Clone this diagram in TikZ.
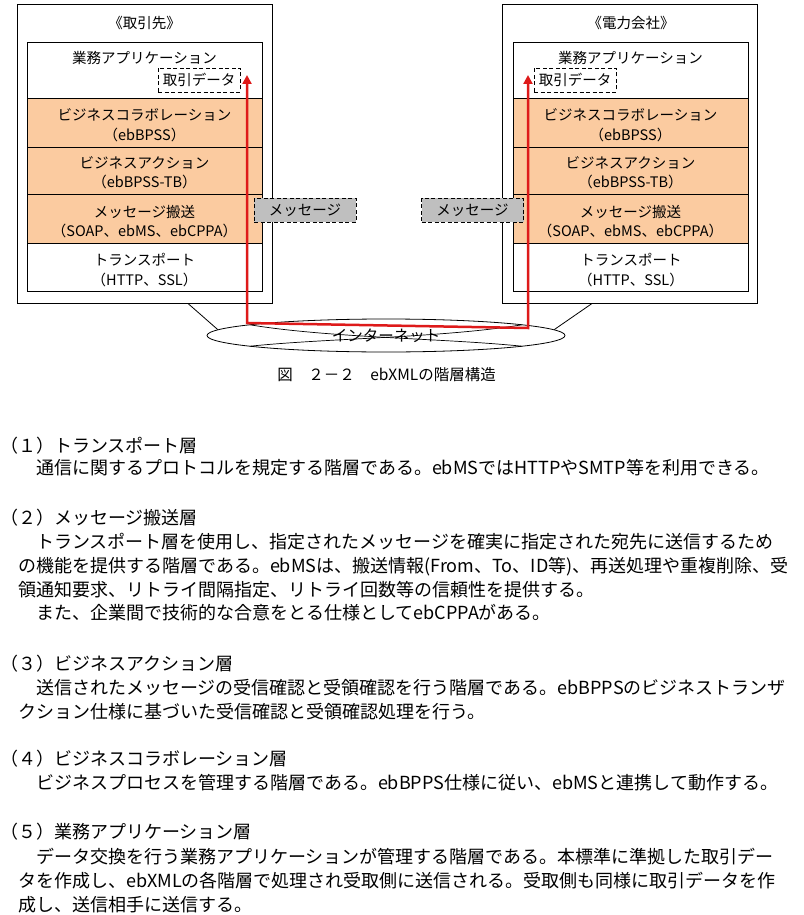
\documentclass[tikz,border=0pt]{standalone}
\usepackage{fontspec}
\setmainfont{Noto Sans CJK JP}
\usetikzlibrary{arrows.meta,shapes.geometric}

\definecolor{peach}{RGB}{251,203,160}
\definecolor{msggray}{RGB}{191,191,191}
\definecolor{flowred}{RGB}{222,26,26}

\newcommand{\layfont}{\fontsize{14.5pt}{19.5pt}\selectfont}
\newcommand{\capfont}{\fontsize{15.5pt}{19pt}\selectfont}
\newcommand{\bodyfont}{\fontsize{18pt}{24pt}\selectfont}

\tikzset{
  outer/.style={draw, line width=1pt, minimum width=255pt, minimum height=298pt, inner sep=0pt},
  layer/.style={draw, line width=0.9pt, fill=white, minimum width=235pt, inner sep=0pt},
  biz/.style={layer, fill=peach},
  lbl/.style={inner sep=0pt, align=center, font=\layfont},
  databox/.style={draw, line width=0.9pt, dash pattern=on 4pt off 2.5pt, fill=white,
    minimum width=82pt, minimum height=24pt, inner sep=0pt, font=\layfont},
  msgbox/.style={databox, fill=msggray, minimum width=102pt},
  flow/.style={draw=flowred, line width=2.5pt,
    arrows={Triangle[length=9pt,width=9pt]-Triangle[length=9pt,width=9pt]}},
  body/.style={anchor=base west, inner sep=0pt, font=\bodyfont}
}

\begin{document}
\begin{tikzpicture}[x=1pt,y=-1pt]
  \fill[white] (0,0) rectangle (803,915);
  \useasboundingbox (0,0) rectangle (803,915);

  % Trading partner
  \node[outer] (lbox) at (144.5,154) {};
  \node[lbl] (ltitle) at (144.5,23) {《取引先》};
  \node[layer, minimum height=56pt] (lapp) at (144.5,70) {};
  \node[biz, minimum height=49pt] (lcol) at (144.5,122.5) {};
  \node[biz, minimum height=47pt] (lact) at (144.5,170.5) {};
  \node[biz, minimum height=49pt] (lmsg) at (144.5,218.5) {};
  \node[layer, minimum height=48pt] (ltrn) at (144.5,267) {};
  \node[lbl] (lappt) at (144.5,58) {業務アプリケーション};
  \node[lbl] (lcolt) at (144.5,125) {ビジネスコラボレーション\\（ebBPSS）};
  \node[lbl] (lactt) at (144.5,172.5) {ビジネスアクション\\（ebBPSS-TB）};
  \node[lbl] (lmsgt) at (144.5,221.5) {メッセージ搬送\\（SOAP、ebMS、ebCPPA）};
  \node[lbl] (ltrnt) at (144.5,270) {トランスポート\\（HTTP、SSL）};
  \node[databox] (ldata) at (199,80) {取引データ};

  % Power company
  \node[outer] (rbox) at (630,154) {};
  \node[lbl] (rtitle) at (631,23) {《電力会社》};
  \node[layer, minimum height=56pt] (rapp) at (630.5,70) {};
  \node[biz, minimum height=49pt] (rcol) at (630.5,122.5) {};
  \node[biz, minimum height=47pt] (ract) at (630.5,170.5) {};
  \node[biz, minimum height=49pt] (rmsg) at (630.5,218.5) {};
  \node[layer, minimum height=48pt] (rtrn) at (631,267) {};
  \node[lbl] (rappt) at (630.5,58) {業務アプリケーション};
  \node[lbl] (rcolt) at (630.5,125) {ビジネスコラボレーション\\（ebBPSS）};
  \node[lbl] (ractt) at (630.5,172.5) {ビジネスアクション\\（ebBPSS-TB）};
  \node[lbl] (rmsgt) at (630.5,221.5) {メッセージ搬送\\（SOAP、ebMS、ebCPPA）};
  \node[lbl] (rtrnt) at (631,270) {トランスポート\\（HTTP、SSL）};
  \node[databox] (rdata) at (575,80) {取引データ};

  % Internet
  \node[draw, ellipse, line width=0.8pt, minimum width=358pt, minimum height=33pt,
    inner sep=0pt, font=\capfont] (net) at (386,335.5) {インターネット};
  \draw[line width=0.7pt] (250,324.8) .. controls (330,338) and (440,338) .. (522,346.2);
  \draw[line width=0.7pt] (250,346.2) .. controls (330,338) and (440,338) .. (522,324.8);
  \draw[line width=0.8pt] ([xshift=43.5pt]lbox.south) -- (net.178);
  \draw[line width=0.8pt] ([xshift=-38pt]rbox.south) -- (net.2);

  % Data flow
  \coordinate (lup) at (247,75);
  \coordinate (ldn) at (247,323);
  \coordinate (rdn) at (528,328);
  \coordinate (rup) at (528,75);
  \draw[flow] (lup) -- (ldn) -- (rdn) -- (rup);

  \node[msgbox] (lmsgx) at (305,210) {メッセージ};
  \node[msgbox] (rmsgx) at (472.5,210) {メッセージ};

  \node[inner sep=0pt, font=\capfont] (cap) at (386.5,375) {図　２－２　ebXMLの階層構造};

  % Explanation
  \node[body] (h1) at (0,452) {（１）トランスポート層};
  \node[body] (p1a) at (18,474) {　通信に関するプロトコルを規定する階層である。ebMSではHTTPやSMTP等を利用できる。};

  \node[body] (h2) at (0,524) {（２）メッセージ搬送層};
  \node[body] (p2a) at (18,548) {　トランスポート層を使用し、指定されたメッセージを確実に指定された宛先に送信するため};
  \node[body] (p2b) at (18,572) {の機能を提供する階層である。ebMSは、搬送情報(From、To、ID等)、再送処理や重複削除、受};
  \node[body] (p2c) at (18,596) {領通知要求、リトライ間隔指定、リトライ回数等の信頼性を提供する。};
  \node[body] (p2d) at (18,619) {　また、企業間で技術的な合意をとる仕様としてebCPPAがある。};

  \node[body] (h3) at (0,670) {（３）ビジネスアクション層};
  \node[body] (p3a) at (18,694) {　送信されたメッセージの受信確認と受領確認を行う階層である。ebBPPSのビジネストランザ};
  \node[body] (p3b) at (18,718) {クション仕様に基づいた受信確認と受領確認処理を行う。};

  \node[body] (h4) at (0,765) {（４）ビジネスコラボレーション層};
  \node[body] (p4a) at (18,789) {　ビジネスプロセスを管理する階層である。ebBPPS仕様に従い、ebMSと連携して動作する。};

  \node[body] (h5) at (0,838) {（５）業務アプリケーション層};
  \node[body] (p5a) at (18,863) {　データ交換を行う業務アプリケーションが管理する階層である。本標準に準拠した取引デー};
  \node[body] (p5b) at (18,887) {タを作成し、ebXMLの各階層で処理され受取側に送信される。受取側も同様に取引データを作};
  \node[body] (p5c) at (18,911) {成し、送信相手に送信する。};
\end{tikzpicture}
\end{document}
